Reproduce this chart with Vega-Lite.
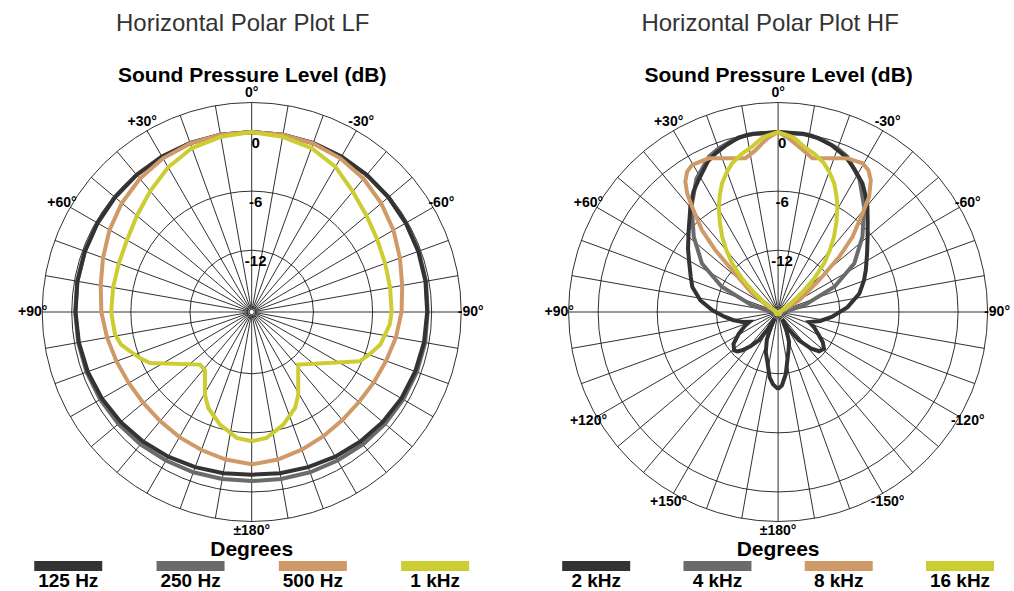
{
  "$schema": "https://vega.github.io/schema/vega-lite/v6.json",
  "autosize": {"type": "pad"},
  "padding": {"left": 0, "top": 11, "right": 0, "bottom": 0},
  "background": "white",
  "config": {"view": {"stroke": null}, "font": "Liberation Sans"},
  "datasets": {
    "circles": [{"lvl": -18}, {"lvl": -12}, {"lvl": -6}, {"lvl": 0}, {"lvl": 3}],
    "rays": [{"ang": 0}, {"ang": 10}, {"ang": 20}, {"ang": 30}, {"ang": 40}, {"ang": 50}, {"ang": 60}, {"ang": 70}, {"ang": 80}, {"ang": 90}, {"ang": 100}, {"ang": 110}, {"ang": 120}, {"ang": 130}, {"ang": 140}, {"ang": 150}, {"ang": 160}, {"ang": 170}, {"ang": 180}, {"ang": 190}, {"ang": 200}, {"ang": 210}, {"ang": 220}, {"ang": 230}, {"ang": 240}, {"ang": 250}, {"ang": 260}, {"ang": 270}, {"ang": 280}, {"ang": 290}, {"ang": 300}, {"ang": 310}, {"ang": 320}, {"ang": 330}, {"ang": 340}, {"ang": 350}],
    "dblab": [{"lvl": 0, "lab": "0"}, {"lvl": -6, "lab": "-6"}, {"lvl": -12, "lab": "-12"}],
    "lflab": [{"lab": "0°", "ang": 0}, {"lab": "+30°", "ang": 30}, {"lab": "-30°", "ang": -30}, {"lab": "+60°", "ang": 60}, {"lab": "-60°", "ang": -60}, {"lab": "+90°", "ang": 90}, {"lab": "-90°", "ang": -90}, {"lab": "±180°", "ang": 180}],
    "hflab": [{"lab": "0°", "ang": 0}, {"lab": "+30°", "ang": 30}, {"lab": "-30°", "ang": -30}, {"lab": "+60°", "ang": 60}, {"lab": "-60°", "ang": -60}, {"lab": "+90°", "ang": 90}, {"lab": "-90°", "ang": -90}, {"lab": "+120°", "ang": 120}, {"lab": "-120°", "ang": -120}, {"lab": "+150°", "ang": 150}, {"lab": "-150°", "ang": -150}, {"lab": "±180°", "ang": 180}],
    "lfleg": [{"series": "125 Hz"}, {"series": "250 Hz"}, {"series": "500 Hz"}, {"series": "1 kHz"}],
    "hfleg": [{"series": "2 kHz"}, {"series": "4 kHz"}, {"series": "8 kHz"}, {"series": "16 kHz"}],
    "lf": [
      {"series": "250 Hz", "ang": -180, "db": -1.1}, {"series": "250 Hz", "ang": -170, "db": -1.05}, {"series": "250 Hz", "ang": -160, "db": -0.95}, {"series": "250 Hz", "ang": -150, "db": -0.85}, {"series": "250 Hz", "ang": -140, "db": -0.7}, {"series": "250 Hz", "ang": -130, "db": -0.6}, {"series": "250 Hz", "ang": -120, "db": -0.5}, {"series": "250 Hz", "ang": -110, "db": -0.42}, {"series": "250 Hz", "ang": -100, "db": -0.38}, {"series": "250 Hz", "ang": -90, "db": -0.4}, {"series": "250 Hz", "ang": -80, "db": -0.3}, {"series": "250 Hz", "ang": -70, "db": -0.22}, {"series": "250 Hz", "ang": -60, "db": -0.17}, {"series": "250 Hz", "ang": -50, "db": -0.12}, {"series": "250 Hz", "ang": -40, "db": -0.07}, {"series": "250 Hz", "ang": -30, "db": -0.03}, {"series": "250 Hz", "ang": -20, "db": 0}, {"series": "250 Hz", "ang": -10, "db": 0}, {"series": "250 Hz", "ang": 0, "db": 0}, {"series": "250 Hz", "ang": 10, "db": 0}, {"series": "250 Hz", "ang": 20, "db": 0}, {"series": "250 Hz", "ang": 30, "db": -0.03}, {"series": "250 Hz", "ang": 40, "db": -0.07}, {"series": "250 Hz", "ang": 50, "db": -0.12}, {"series": "250 Hz", "ang": 60, "db": -0.17}, {"series": "250 Hz", "ang": 70, "db": -0.22}, {"series": "250 Hz", "ang": 80, "db": -0.28}, {"series": "250 Hz", "ang": 90, "db": -0.35}, {"series": "250 Hz", "ang": 100, "db": -0.38}, {"series": "250 Hz", "ang": 110, "db": -0.42}, {"series": "250 Hz", "ang": 120, "db": -0.5}, {"series": "250 Hz", "ang": 130, "db": -0.6}, {"series": "250 Hz", "ang": 140, "db": -0.7}, {"series": "250 Hz", "ang": 150, "db": -0.85}, {"series": "250 Hz", "ang": 160, "db": -0.95}, {"series": "250 Hz", "ang": 170, "db": -1.05}, {"series": "250 Hz", "ang": 180, "db": -1.1},
      {"series": "125 Hz", "ang": -180, "db": -1.75}, {"series": "125 Hz", "ang": -170, "db": -1.65}, {"series": "125 Hz", "ang": -160, "db": -1.5}, {"series": "125 Hz", "ang": -150, "db": -1.3}, {"series": "125 Hz", "ang": -140, "db": -1.1}, {"series": "125 Hz", "ang": -130, "db": -0.9}, {"series": "125 Hz", "ang": -120, "db": -0.72}, {"series": "125 Hz", "ang": -110, "db": -0.6}, {"series": "125 Hz", "ang": -100, "db": -0.5}, {"series": "125 Hz", "ang": -90, "db": -0.45}, {"series": "125 Hz", "ang": -80, "db": -0.35}, {"series": "125 Hz", "ang": -70, "db": -0.27}, {"series": "125 Hz", "ang": -60, "db": -0.2}, {"series": "125 Hz", "ang": -50, "db": -0.15}, {"series": "125 Hz", "ang": -40, "db": -0.1}, {"series": "125 Hz", "ang": -30, "db": -0.05}, {"series": "125 Hz", "ang": -20, "db": -0.02}, {"series": "125 Hz", "ang": -10, "db": 0}, {"series": "125 Hz", "ang": 0, "db": 0}, {"series": "125 Hz", "ang": 10, "db": 0}, {"series": "125 Hz", "ang": 20, "db": -0.02}, {"series": "125 Hz", "ang": 30, "db": -0.05}, {"series": "125 Hz", "ang": 40, "db": -0.1}, {"series": "125 Hz", "ang": 50, "db": -0.15}, {"series": "125 Hz", "ang": 60, "db": -0.2}, {"series": "125 Hz", "ang": 70, "db": -0.25}, {"series": "125 Hz", "ang": 80, "db": -0.3}, {"series": "125 Hz", "ang": 90, "db": -0.38}, {"series": "125 Hz", "ang": 100, "db": -0.45}, {"series": "125 Hz", "ang": 110, "db": -0.55}, {"series": "125 Hz", "ang": 120, "db": -0.7}, {"series": "125 Hz", "ang": 130, "db": -0.9}, {"series": "125 Hz", "ang": 140, "db": -1.1}, {"series": "125 Hz", "ang": 150, "db": -1.3}, {"series": "125 Hz", "ang": 160, "db": -1.5}, {"series": "125 Hz", "ang": 170, "db": -1.65}, {"series": "125 Hz", "ang": 180, "db": -1.75},
      {"series": "500 Hz", "ang": -180, "db": -2.8}, {"series": "500 Hz", "ang": -170, "db": -3.05}, {"series": "500 Hz", "ang": -160, "db": -3.4}, {"series": "500 Hz", "ang": -150, "db": -3.7}, {"series": "500 Hz", "ang": -140, "db": -3.95}, {"series": "500 Hz", "ang": -130, "db": -4.05}, {"series": "500 Hz", "ang": -120, "db": -3.95}, {"series": "500 Hz", "ang": -110, "db": -3.75}, {"series": "500 Hz", "ang": -100, "db": -3.4}, {"series": "500 Hz", "ang": -90, "db": -3.05}, {"series": "500 Hz", "ang": -80, "db": -2.75}, {"series": "500 Hz", "ang": -70, "db": -2.25}, {"series": "500 Hz", "ang": -60, "db": -1.65}, {"series": "500 Hz", "ang": -50, "db": -1.1}, {"series": "500 Hz", "ang": -40, "db": -0.6}, {"series": "500 Hz", "ang": -30, "db": -0.25}, {"series": "500 Hz", "ang": -20, "db": -0.05}, {"series": "500 Hz", "ang": -10, "db": 0}, {"series": "500 Hz", "ang": 0, "db": 0}, {"series": "500 Hz", "ang": 10, "db": 0}, {"series": "500 Hz", "ang": 20, "db": -0.05}, {"series": "500 Hz", "ang": 30, "db": -0.25}, {"series": "500 Hz", "ang": 40, "db": -0.6}, {"series": "500 Hz", "ang": 50, "db": -1.05}, {"series": "500 Hz", "ang": 60, "db": -1.6}, {"series": "500 Hz", "ang": 70, "db": -2.2}, {"series": "500 Hz", "ang": 80, "db": -2.7}, {"series": "500 Hz", "ang": 90, "db": -3.0}, {"series": "500 Hz", "ang": 100, "db": -3.35}, {"series": "500 Hz", "ang": 110, "db": -3.65}, {"series": "500 Hz", "ang": 120, "db": -3.85}, {"series": "500 Hz", "ang": 130, "db": -3.9}, {"series": "500 Hz", "ang": 140, "db": -3.8}, {"series": "500 Hz", "ang": 150, "db": -3.6}, {"series": "500 Hz", "ang": 160, "db": -3.35}, {"series": "500 Hz", "ang": 170, "db": -3.05}, {"series": "500 Hz", "ang": 180, "db": -2.8},
      {"series": "1 kHz", "ang": -180, "db": -5.15}, {"series": "1 kHz", "ang": -173.2, "db": -5.39}, {"series": "1 kHz", "ang": -164.3, "db": -6.39}, {"series": "1 kHz", "ang": -155.7, "db": -7.57}, {"series": "1 kHz", "ang": -150.6, "db": -8.64}, {"series": "1 kHz", "ang": -138.5, "db": -11.14}, {"series": "1 kHz", "ang": -114.5, "db": -6.2}, {"series": "1 kHz", "ang": -110, "db": -5.6}, {"series": "1 kHz", "ang": -104.3, "db": -4.8}, {"series": "1 kHz", "ang": -95.2, "db": -4.2}, {"series": "1 kHz", "ang": -90, "db": -4.06}, {"series": "1 kHz", "ang": -80, "db": -4.0}, {"series": "1 kHz", "ang": -70, "db": -3.85}, {"series": "1 kHz", "ang": -60, "db": -3.55}, {"series": "1 kHz", "ang": -50, "db": -3.05}, {"series": "1 kHz", "ang": -40, "db": -2.3}, {"series": "1 kHz", "ang": -30, "db": -1.25}, {"series": "1 kHz", "ang": -20, "db": -0.55}, {"series": "1 kHz", "ang": -10, "db": -0.2}, {"series": "1 kHz", "ang": 0, "db": 0}, {"series": "1 kHz", "ang": 10, "db": -0.2}, {"series": "1 kHz", "ang": 20, "db": -0.55}, {"series": "1 kHz", "ang": 30, "db": -1.3}, {"series": "1 kHz", "ang": 40, "db": -2.25}, {"series": "1 kHz", "ang": 50, "db": -3.05}, {"series": "1 kHz", "ang": 60, "db": -3.65}, {"series": "1 kHz", "ang": 70, "db": -3.9}, {"series": "1 kHz", "ang": 80, "db": -3.98}, {"series": "1 kHz", "ang": 90, "db": -4.0}, {"series": "1 kHz", "ang": 99.4, "db": -4.2}, {"series": "1 kHz", "ang": 104, "db": -4.6}, {"series": "1 kHz", "ang": 108, "db": -5.3}, {"series": "1 kHz", "ang": 112.4, "db": -6.0}, {"series": "1 kHz", "ang": 116.6, "db": -6.72}, {"series": "1 kHz", "ang": 135.5, "db": -10.78}, {"series": "1 kHz", "ang": 141.2, "db": -10.7}, {"series": "1 kHz", "ang": 150.5, "db": -8.63}, {"series": "1 kHz", "ang": 155.7, "db": -7.57}, {"series": "1 kHz", "ang": 164.3, "db": -6.39}, {"series": "1 kHz", "ang": 173.2, "db": -5.39}, {"series": "1 kHz", "ang": 180, "db": -5.15}
    ],
    "hf": [
      {"series": "4 kHz", "ang": -180, "db": -18}, {"series": "4 kHz", "ang": -150, "db": -18}, {"series": "4 kHz", "ang": -120, "db": -18}, {"series": "4 kHz", "ang": -90, "db": -18}, {"series": "4 kHz", "ang": -82, "db": -17.2}, {"series": "4 kHz", "ang": -75.5, "db": -15.5}, {"series": "4 kHz", "ang": -65.9, "db": -12.0}, {"series": "4 kHz", "ang": -57.5, "db": -9.1}, {"series": "4 kHz", "ang": -48.3, "db": -6.8}, {"series": "4 kHz", "ang": -39.3, "db": -4.47}, {"series": "4 kHz", "ang": -31.5, "db": -2.45}, {"series": "4 kHz", "ang": -24, "db": -1.0}, {"series": "4 kHz", "ang": -20, "db": -0.6}, {"series": "4 kHz", "ang": -15, "db": -0.25}, {"series": "4 kHz", "ang": -10, "db": 0}, {"series": "4 kHz", "ang": 0, "db": 0}, {"series": "4 kHz", "ang": 10, "db": 0}, {"series": "4 kHz", "ang": 15, "db": -0.25}, {"series": "4 kHz", "ang": 20, "db": -0.6}, {"series": "4 kHz", "ang": 24, "db": -1.0}, {"series": "4 kHz", "ang": 31.5, "db": -2.4}, {"series": "4 kHz", "ang": 39.3, "db": -4.4}, {"series": "4 kHz", "ang": 48.3, "db": -6.8}, {"series": "4 kHz", "ang": 57.5, "db": -9.1}, {"series": "4 kHz", "ang": 65.9, "db": -12.0}, {"series": "4 kHz", "ang": 75.5, "db": -15.5}, {"series": "4 kHz", "ang": 82, "db": -17.2}, {"series": "4 kHz", "ang": 90, "db": -18}, {"series": "4 kHz", "ang": 120, "db": -18}, {"series": "4 kHz", "ang": 150, "db": -18}, {"series": "4 kHz", "ang": 180, "db": -18},
      {"series": "2 kHz", "ang": -180, "db": -10.45}, {"series": "2 kHz", "ang": -177, "db": -10.8}, {"series": "2 kHz", "ang": -173, "db": -11.9}, {"series": "2 kHz", "ang": -165, "db": -14.2}, {"series": "2 kHz", "ang": -160, "db": -15.0}, {"series": "2 kHz", "ang": -155, "db": -16.3}, {"series": "2 kHz", "ang": -151, "db": -17.4}, {"series": "2 kHz", "ang": -148, "db": -16.2}, {"series": "2 kHz", "ang": -143.7, "db": -14.7}, {"series": "2 kHz", "ang": -138, "db": -13.3}, {"series": "2 kHz", "ang": -133.7, "db": -12.5}, {"series": "2 kHz", "ang": -128.7, "db": -12.3}, {"series": "2 kHz", "ang": -124, "db": -12.8}, {"series": "2 kHz", "ang": -119.7, "db": -13.5}, {"series": "2 kHz", "ang": -113, "db": -14.3}, {"series": "2 kHz", "ang": -108, "db": -14.95}, {"series": "2 kHz", "ang": -102, "db": -13.9}, {"series": "2 kHz", "ang": -95.3, "db": -12.8}, {"series": "2 kHz", "ang": -86, "db": -11.2}, {"series": "2 kHz", "ang": -77.2, "db": -9.8}, {"series": "2 kHz", "ang": -70, "db": -9.0}, {"series": "2 kHz", "ang": -64.5, "db": -8.4}, {"series": "2 kHz", "ang": -57, "db": -7.5}, {"series": "2 kHz", "ang": -50, "db": -6.4}, {"series": "2 kHz", "ang": -45, "db": -5.4}, {"series": "2 kHz", "ang": -40.3, "db": -4.24}, {"series": "2 kHz", "ang": -37, "db": -3.5}, {"series": "2 kHz", "ang": -33.3, "db": -2.65}, {"series": "2 kHz", "ang": -28, "db": -1.8}, {"series": "2 kHz", "ang": -23.5, "db": -1.07}, {"series": "2 kHz", "ang": -18, "db": -0.5}, {"series": "2 kHz", "ang": -13, "db": -0.15}, {"series": "2 kHz", "ang": -8, "db": 0}, {"series": "2 kHz", "ang": 0, "db": 0}, {"series": "2 kHz", "ang": 8, "db": 0}, {"series": "2 kHz", "ang": 12.6, "db": -0.1}, {"series": "2 kHz", "ang": 17, "db": -0.5}, {"series": "2 kHz", "ang": 21.5, "db": -0.95}, {"series": "2 kHz", "ang": 25, "db": -1.4}, {"series": "2 kHz", "ang": 31, "db": -2.6}, {"series": "2 kHz", "ang": 35, "db": -3.3}, {"series": "2 kHz", "ang": 39.8, "db": -4.35}, {"series": "2 kHz", "ang": 43, "db": -5.1}, {"series": "2 kHz", "ang": 47.5, "db": -5.95}, {"series": "2 kHz", "ang": 55, "db": -7.1}, {"series": "2 kHz", "ang": 61.4, "db": -8.0}, {"series": "2 kHz", "ang": 68, "db": -8.7}, {"series": "2 kHz", "ang": 73.8, "db": -9.2}, {"series": "2 kHz", "ang": 81.6, "db": -10.3}, {"series": "2 kHz", "ang": 88.6, "db": -11.6}, {"series": "2 kHz", "ang": 95, "db": -12.8}, {"series": "2 kHz", "ang": 100, "db": -13.6}, {"series": "2 kHz", "ang": 105.6, "db": -14.5}, {"series": "2 kHz", "ang": 109, "db": -15.2}, {"series": "2 kHz", "ang": 113, "db": -14.6}, {"series": "2 kHz", "ang": 118.9, "db": -13.7}, {"series": "2 kHz", "ang": 125.6, "db": -12.7}, {"series": "2 kHz", "ang": 131, "db": -12.35}, {"series": "2 kHz", "ang": 134, "db": -12.5}, {"series": "2 kHz", "ang": 137, "db": -12.95}, {"series": "2 kHz", "ang": 141, "db": -13.8}, {"series": "2 kHz", "ang": 145.8, "db": -14.8}, {"series": "2 kHz", "ang": 149, "db": -16.3}, {"series": "2 kHz", "ang": 152, "db": -17.5}, {"series": "2 kHz", "ang": 155, "db": -16.2}, {"series": "2 kHz", "ang": 158, "db": -15.2}, {"series": "2 kHz", "ang": 163, "db": -14.0}, {"series": "2 kHz", "ang": 167.4, "db": -13.2}, {"series": "2 kHz", "ang": 172.5, "db": -11.6}, {"series": "2 kHz", "ang": 176, "db": -10.9}, {"series": "2 kHz", "ang": 180, "db": -10.45},
      {"series": "8 kHz", "ang": -180, "db": -18}, {"series": "8 kHz", "ang": -150, "db": -18}, {"series": "8 kHz", "ang": -120, "db": -18}, {"series": "8 kHz", "ang": -90, "db": -18}, {"series": "8 kHz", "ang": -75, "db": -18}, {"series": "8 kHz", "ang": -68, "db": -17.5}, {"series": "8 kHz", "ang": -60.6, "db": -15.8}, {"series": "8 kHz", "ang": -52.2, "db": -13.0}, {"series": "8 kHz", "ang": -47.9, "db": -9.9}, {"series": "8 kHz", "ang": -44.7, "db": -7.5}, {"series": "8 kHz", "ang": -40.6, "db": -5.1}, {"series": "8 kHz", "ang": -38.3, "db": -3.35}, {"series": "8 kHz", "ang": -35.1, "db": -1.9}, {"series": "8 kHz", "ang": -32.5, "db": -1.2}, {"series": "8 kHz", "ang": -29.6, "db": -0.9}, {"series": "8 kHz", "ang": -24.4, "db": -1.14}, {"series": "8 kHz", "ang": -22.7, "db": -1.35}, {"series": "8 kHz", "ang": -12.6, "db": -2.28}, {"series": "8 kHz", "ang": -7.2, "db": -1.35}, {"series": "8 kHz", "ang": -3.5, "db": -0.6}, {"series": "8 kHz", "ang": 0, "db": 0}, {"series": "8 kHz", "ang": 3, "db": -0.5}, {"series": "8 kHz", "ang": 5.4, "db": -1.07}, {"series": "8 kHz", "ang": 8, "db": -1.7}, {"series": "8 kHz", "ang": 12, "db": -2.3}, {"series": "8 kHz", "ang": 24.3, "db": -1.15}, {"series": "8 kHz", "ang": 30.3, "db": -0.97}, {"series": "8 kHz", "ang": 33, "db": -1.3}, {"series": "8 kHz", "ang": 35.4, "db": -2.0}, {"series": "8 kHz", "ang": 37.5, "db": -3.1}, {"series": "8 kHz", "ang": 39.3, "db": -4.47}, {"series": "8 kHz", "ang": 42.9, "db": -6.9}, {"series": "8 kHz", "ang": 45.4, "db": -9.3}, {"series": "8 kHz", "ang": 47.7, "db": -12.0}, {"series": "8 kHz", "ang": 54.6, "db": -15.05}, {"series": "8 kHz", "ang": 62, "db": -17.3}, {"series": "8 kHz", "ang": 70, "db": -18}, {"series": "8 kHz", "ang": 90, "db": -18}, {"series": "8 kHz", "ang": 120, "db": -18}, {"series": "8 kHz", "ang": 150, "db": -18}, {"series": "8 kHz", "ang": 180, "db": -18},
      {"series": "16 kHz", "ang": -180, "db": -18}, {"series": "16 kHz", "ang": -150, "db": -18}, {"series": "16 kHz", "ang": -120, "db": -18}, {"series": "16 kHz", "ang": -90, "db": -18}, {"series": "16 kHz", "ang": -70, "db": -18}, {"series": "16 kHz", "ang": -62, "db": -17.6}, {"series": "16 kHz", "ang": -56.4, "db": -16.7}, {"series": "16 kHz", "ang": -50, "db": -14.8}, {"series": "16 kHz", "ang": -47, "db": -13.2}, {"series": "16 kHz", "ang": -43.5, "db": -11.5}, {"series": "16 kHz", "ang": -40, "db": -10.1}, {"series": "16 kHz", "ang": -36.6, "db": -8.75}, {"series": "16 kHz", "ang": -33, "db": -7.4}, {"series": "16 kHz", "ang": -29.4, "db": -6.0}, {"series": "16 kHz", "ang": -26.5, "db": -5.0}, {"series": "16 kHz", "ang": -23.5, "db": -4.0}, {"series": "16 kHz", "ang": -20, "db": -3.1}, {"series": "16 kHz", "ang": -17.2, "db": -2.47}, {"series": "16 kHz", "ang": -13, "db": -1.8}, {"series": "16 kHz", "ang": -8.9, "db": -1.27}, {"series": "16 kHz", "ang": -5, "db": -0.45}, {"series": "16 kHz", "ang": 0, "db": 0}, {"series": "16 kHz", "ang": 5, "db": -0.45}, {"series": "16 kHz", "ang": 8.9, "db": -1.27}, {"series": "16 kHz", "ang": 13, "db": -1.8}, {"series": "16 kHz", "ang": 17.2, "db": -2.47}, {"series": "16 kHz", "ang": 20, "db": -3.1}, {"series": "16 kHz", "ang": 23.5, "db": -4.0}, {"series": "16 kHz", "ang": 26.5, "db": -5.0}, {"series": "16 kHz", "ang": 29.4, "db": -6.0}, {"series": "16 kHz", "ang": 33, "db": -7.4}, {"series": "16 kHz", "ang": 36.6, "db": -8.75}, {"series": "16 kHz", "ang": 40, "db": -10.1}, {"series": "16 kHz", "ang": 43.5, "db": -11.5}, {"series": "16 kHz", "ang": 47, "db": -13.2}, {"series": "16 kHz", "ang": 50, "db": -14.8}, {"series": "16 kHz", "ang": 56.4, "db": -16.7}, {"series": "16 kHz", "ang": 62, "db": -17.6}, {"series": "16 kHz", "ang": 70, "db": -18}, {"series": "16 kHz", "ang": 90, "db": -18}, {"series": "16 kHz", "ang": 120, "db": -18}, {"series": "16 kHz", "ang": 150, "db": -18}, {"series": "16 kHz", "ang": 180, "db": -18}
    ]
  },
  "bounds": "flush",
  "columns": 2,
  "spacing": {"row": 24, "column": 38.1},
  "resolve": {"scale": {"x": "independent", "y": "independent", "size": "independent", "color": "independent"}},
  "concat": [
    {
      "width": 503.4,
      "height": 450,
      "title": {"text": "Horizontal Polar Plot LF", "frame": "group", "anchor": "middle", "offset": 28.5, "dx": -9, "fontSize": 24, "fontWeight": "normal", "color": "#333333", "font": "Liberation Sans"},
      "layer": [
        {
          "data": {"name": "circles"},
          "transform": [{"calculate": "datum.lvl + 18.27", "as": "rho"}],
          "mark": {"type": "point", "shape": "circle", "filled": false, "stroke": "#1a1a1a", "strokeWidth": 0.9, "opacity": 1},
          "encoding": {
            "x": {"datum": 0, "type": "quantitative", "title": "Sound Pressure Level (dB)", "scale": {"domain": [-25.56, 25.56], "nice": false, "zero": false}, "axis": {"orient": "top", "title": "Sound Pressure Level (dB)", "labels": false, "ticks": false, "domain": false, "grid": false, "titleFontSize": 21, "titleFontWeight": "bold", "titleColor": "#000000", "titleFont": "Liberation Sans", "titlePadding": 2}},
            "y": {"datum": 0, "type": "quantitative", "scale": {"domain": [-22.85, 22.85], "nice": false, "zero": false}, "axis": null},
            "size": {"field": "rho", "type": "quantitative", "scale": {"type": "pow", "exponent": 2, "domain": [0, 21.27], "range": [0, 175561]}, "legend": null}
          }
        },
        {
          "data": {"name": "rays"},
          "transform": [
            {"calculate": "-0.35*sin(datum.ang*PI/180)", "as": "x1"},
            {"calculate": "0.35*cos(datum.ang*PI/180)", "as": "y1"},
            {"calculate": "-21.27*sin(datum.ang*PI/180)", "as": "x2"},
            {"calculate": "21.27*cos(datum.ang*PI/180)", "as": "y2"}
          ],
          "mark": {"type": "rule", "stroke": "#1a1a1a", "strokeWidth": 0.9},
          "encoding": {
            "x": {"field": "x1", "type": "quantitative", "title": "Sound Pressure Level (dB)", "scale": {"domain": [-25.56, 25.56], "nice": false, "zero": false}, "axis": {"orient": "top", "title": "Sound Pressure Level (dB)", "labels": false, "ticks": false, "domain": false, "grid": false, "titleFontSize": 21, "titleFontWeight": "bold", "titleColor": "#000000", "titleFont": "Liberation Sans", "titlePadding": 2}},
            "y": {"field": "y1", "type": "quantitative", "scale": {"domain": [-22.85, 22.85], "nice": false, "zero": false}, "axis": null},
            "x2": {"field": "x2"},
            "y2": {"field": "y2"}
          }
        },
        {
          "data": {"name": "lf"},
          "transform": [
            {"calculate": "max(datum.db, -18) + 18.27", "as": "rho"},
            {"calculate": "-datum.rho*sin(datum.ang*PI/180)", "as": "px"},
            {"calculate": "datum.rho*cos(datum.ang*PI/180)", "as": "py"}
          ],
          "mark": {"type": "line", "strokeWidth": 4},
          "encoding": {
            "x": {"field": "px", "type": "quantitative", "title": "Sound Pressure Level (dB)", "scale": {"domain": [-25.56, 25.56], "nice": false, "zero": false}, "axis": {"orient": "top", "title": "Sound Pressure Level (dB)", "labels": false, "ticks": false, "domain": false, "grid": false, "titleFontSize": 21, "titleFontWeight": "bold", "titleColor": "#000000", "titleFont": "Liberation Sans", "titlePadding": 2}},
            "y": {"field": "py", "type": "quantitative", "scale": {"domain": [-22.85, 22.85], "nice": false, "zero": false}, "axis": null},
            "order": {"field": "ang", "type": "quantitative"},
            "color": {"field": "series", "type": "nominal", "scale": {"domain": ["125 Hz", "250 Hz", "500 Hz", "1 kHz", "2 kHz", "4 kHz", "8 kHz", "16 kHz"], "range": ["#333333", "#6b6b6b", "#cf9a67", "#cccc33", "#333333", "#6b6b6b", "#cf9a67", "#cccc33"]}, "legend": null}
          }
        },
        {
          "data": {"name": "lflab"},
          "transform": [
            {"calculate": "-22.24*sin(datum.ang*PI/180)", "as": "px"},
            {"calculate": "22.24*cos(datum.ang*PI/180)", "as": "py"}
          ],
          "mark": {"type": "text", "fontSize": 14, "fontWeight": "bold", "font": "Liberation Sans", "color": "#000000", "align": "center", "baseline": "middle"},
          "encoding": {
            "x": {"field": "px", "type": "quantitative", "title": "Sound Pressure Level (dB)", "scale": {"domain": [-25.56, 25.56], "nice": false, "zero": false}, "axis": {"orient": "top", "title": "Sound Pressure Level (dB)", "labels": false, "ticks": false, "domain": false, "grid": false, "titleFontSize": 21, "titleFontWeight": "bold", "titleColor": "#000000", "titleFont": "Liberation Sans", "titlePadding": 2}},
            "y": {"field": "py", "type": "quantitative", "scale": {"domain": [-22.85, 22.85], "nice": false, "zero": false}, "axis": null},
            "text": {"field": "lab"}
          }
        },
        {
          "data": {"name": "dblab"},
          "transform": [{"calculate": "datum.lvl + 18.27", "as": "rho"}],
          "mark": {"type": "text", "fontSize": 15, "fontWeight": "bold", "font": "Liberation Sans", "color": "#000000", "align": "center", "baseline": "middle", "dx": 4, "dy": 11},
          "encoding": {
            "x": {"datum": 0, "type": "quantitative", "title": "Sound Pressure Level (dB)", "scale": {"domain": [-25.56, 25.56], "nice": false, "zero": false}, "axis": {"orient": "top", "title": "Sound Pressure Level (dB)", "labels": false, "ticks": false, "domain": false, "grid": false, "titleFontSize": 21, "titleFontWeight": "bold", "titleColor": "#000000", "titleFont": "Liberation Sans", "titlePadding": 2}},
            "y": {"field": "rho", "type": "quantitative", "scale": {"domain": [-22.85, 22.85], "nice": false, "zero": false}, "axis": null},
            "text": {"field": "lab"}
          }
        }
      ]
    },
    {
      "width": 472,
      "height": 450,
      "title": {"text": "Horizontal Polar Plot HF", "frame": "group", "anchor": "middle", "offset": 28.5, "dx": -8, "fontSize": 24, "fontWeight": "normal", "color": "#333333", "font": "Liberation Sans"},
      "layer": [
        {
          "data": {"name": "circles"},
          "transform": [{"calculate": "datum.lvl + 18.27", "as": "rho"}],
          "mark": {"type": "point", "shape": "circle", "filled": false, "stroke": "#1a1a1a", "strokeWidth": 0.9, "opacity": 1},
          "encoding": {
            "x": {"datum": 0, "type": "quantitative", "title": "Sound Pressure Level (dB)", "scale": {"domain": [-23.97, 23.97], "nice": false, "zero": false}, "axis": {"orient": "top", "title": "Sound Pressure Level (dB)", "labels": false, "ticks": false, "domain": false, "grid": false, "titleFontSize": 21, "titleFontWeight": "bold", "titleColor": "#000000", "titleFont": "Liberation Sans", "titlePadding": 2}},
            "y": {"datum": 0, "type": "quantitative", "scale": {"domain": [-22.85, 22.85], "nice": false, "zero": false}, "axis": null},
            "size": {"field": "rho", "type": "quantitative", "scale": {"type": "pow", "exponent": 2, "domain": [0, 21.27], "range": [0, 175561]}, "legend": null}
          }
        },
        {
          "data": {"name": "rays"},
          "transform": [
            {"calculate": "-0.35*sin(datum.ang*PI/180)", "as": "x1"},
            {"calculate": "0.35*cos(datum.ang*PI/180)", "as": "y1"},
            {"calculate": "-21.27*sin(datum.ang*PI/180)", "as": "x2"},
            {"calculate": "21.27*cos(datum.ang*PI/180)", "as": "y2"}
          ],
          "mark": {"type": "rule", "stroke": "#1a1a1a", "strokeWidth": 0.9},
          "encoding": {
            "x": {"field": "x1", "type": "quantitative", "title": "Sound Pressure Level (dB)", "scale": {"domain": [-23.97, 23.97], "nice": false, "zero": false}, "axis": {"orient": "top", "title": "Sound Pressure Level (dB)", "labels": false, "ticks": false, "domain": false, "grid": false, "titleFontSize": 21, "titleFontWeight": "bold", "titleColor": "#000000", "titleFont": "Liberation Sans", "titlePadding": 2}},
            "y": {"field": "y1", "type": "quantitative", "scale": {"domain": [-22.85, 22.85], "nice": false, "zero": false}, "axis": null},
            "x2": {"field": "x2"},
            "y2": {"field": "y2"}
          }
        },
        {
          "data": {"name": "hf"},
          "transform": [
            {"calculate": "max(datum.db, -18) + 18.27", "as": "rho"},
            {"calculate": "-datum.rho*sin(datum.ang*PI/180)", "as": "px"},
            {"calculate": "datum.rho*cos(datum.ang*PI/180)", "as": "py"}
          ],
          "mark": {"type": "line", "strokeWidth": 4},
          "encoding": {
            "x": {"field": "px", "type": "quantitative", "title": "Sound Pressure Level (dB)", "scale": {"domain": [-23.97, 23.97], "nice": false, "zero": false}, "axis": {"orient": "top", "title": "Sound Pressure Level (dB)", "labels": false, "ticks": false, "domain": false, "grid": false, "titleFontSize": 21, "titleFontWeight": "bold", "titleColor": "#000000", "titleFont": "Liberation Sans", "titlePadding": 2}},
            "y": {"field": "py", "type": "quantitative", "scale": {"domain": [-22.85, 22.85], "nice": false, "zero": false}, "axis": null},
            "order": {"field": "ang", "type": "quantitative"},
            "color": {"field": "series", "type": "nominal", "scale": {"domain": ["125 Hz", "250 Hz", "500 Hz", "1 kHz", "2 kHz", "4 kHz", "8 kHz", "16 kHz"], "range": ["#333333", "#6b6b6b", "#cf9a67", "#cccc33", "#333333", "#6b6b6b", "#cf9a67", "#cccc33"]}, "legend": null}
          }
        },
        {
          "data": {"name": "hflab"},
          "transform": [
            {"calculate": "-22.24*sin(datum.ang*PI/180)", "as": "px"},
            {"calculate": "22.24*cos(datum.ang*PI/180)", "as": "py"}
          ],
          "mark": {"type": "text", "fontSize": 14, "fontWeight": "bold", "font": "Liberation Sans", "color": "#000000", "align": "center", "baseline": "middle"},
          "encoding": {
            "x": {"field": "px", "type": "quantitative", "title": "Sound Pressure Level (dB)", "scale": {"domain": [-23.97, 23.97], "nice": false, "zero": false}, "axis": {"orient": "top", "title": "Sound Pressure Level (dB)", "labels": false, "ticks": false, "domain": false, "grid": false, "titleFontSize": 21, "titleFontWeight": "bold", "titleColor": "#000000", "titleFont": "Liberation Sans", "titlePadding": 2}},
            "y": {"field": "py", "type": "quantitative", "scale": {"domain": [-22.85, 22.85], "nice": false, "zero": false}, "axis": null},
            "text": {"field": "lab"}
          }
        },
        {
          "data": {"name": "dblab"},
          "transform": [{"calculate": "datum.lvl + 18.27", "as": "rho"}],
          "mark": {"type": "text", "fontSize": 15, "fontWeight": "bold", "font": "Liberation Sans", "color": "#000000", "align": "center", "baseline": "middle", "dx": 4, "dy": 11},
          "encoding": {
            "x": {"datum": 0, "type": "quantitative", "title": "Sound Pressure Level (dB)", "scale": {"domain": [-23.97, 23.97], "nice": false, "zero": false}, "axis": {"orient": "top", "title": "Sound Pressure Level (dB)", "labels": false, "ticks": false, "domain": false, "grid": false, "titleFontSize": 21, "titleFontWeight": "bold", "titleColor": "#000000", "titleFont": "Liberation Sans", "titlePadding": 2}},
            "y": {"field": "rho", "type": "quantitative", "scale": {"domain": [-22.85, 22.85], "nice": false, "zero": false}, "axis": null},
            "text": {"field": "lab"}
          }
        }
      ]
    },
    {
      "width": 503.4,
      "height": 10,
      "title": {"text": "Degrees", "frame": "group", "anchor": "middle", "offset": 1, "fontSize": 21, "fontWeight": "bold", "color": "#000000", "font": "Liberation Sans"},
      "data": {"name": "lfleg"},
      "layer": [
        {
          "mark": {"type": "point", "shape": "M-1,-0.147H1V0.147H-1Z", "size": 4624, "filled": true, "opacity": 1},
          "encoding": {
            "x": {"field": "series", "type": "nominal", "sort": null, "scale": {"type": "point", "padding": 0.558}, "axis": null},
            "color": {"field": "series", "type": "nominal", "scale": {"domain": ["125 Hz", "250 Hz", "500 Hz", "1 kHz", "2 kHz", "4 kHz", "8 kHz", "16 kHz"], "range": ["#333333", "#6b6b6b", "#cf9a67", "#cccc33", "#333333", "#6b6b6b", "#cf9a67", "#cccc33"]}, "legend": null}
          }
        },
        {
          "mark": {"type": "text", "fontSize": 19, "fontWeight": "bold", "font": "Liberation Sans", "color": "#000000", "align": "center", "baseline": "alphabetic", "dy": 21},
          "encoding": {
            "x": {"field": "series", "type": "nominal", "sort": null, "scale": {"type": "point", "padding": 0.558}, "axis": null},
            "text": {"field": "series"}
          }
        }
      ]
    },
    {
      "width": 472,
      "height": 10,
      "title": {"text": "Degrees", "frame": "group", "anchor": "middle", "offset": 1, "fontSize": 21, "fontWeight": "bold", "color": "#000000", "font": "Liberation Sans"},
      "data": {"name": "hfleg"},
      "layer": [
        {
          "mark": {"type": "point", "shape": "M-1,-0.147H1V0.147H-1Z", "size": 4624, "filled": true, "opacity": 1},
          "encoding": {
            "x": {"field": "series", "type": "nominal", "sort": null, "scale": {"type": "point", "padding": 0.446}, "axis": null},
            "color": {"field": "series", "type": "nominal", "scale": {"domain": ["125 Hz", "250 Hz", "500 Hz", "1 kHz", "2 kHz", "4 kHz", "8 kHz", "16 kHz"], "range": ["#333333", "#6b6b6b", "#cf9a67", "#cccc33", "#333333", "#6b6b6b", "#cf9a67", "#cccc33"]}, "legend": null}
          }
        },
        {
          "mark": {"type": "text", "fontSize": 19, "fontWeight": "bold", "font": "Liberation Sans", "color": "#000000", "align": "center", "baseline": "alphabetic", "dy": 21},
          "encoding": {
            "x": {"field": "series", "type": "nominal", "sort": null, "scale": {"type": "point", "padding": 0.446}, "axis": null},
            "text": {"field": "series"}
          }
        }
      ]
    }
  ]
}
